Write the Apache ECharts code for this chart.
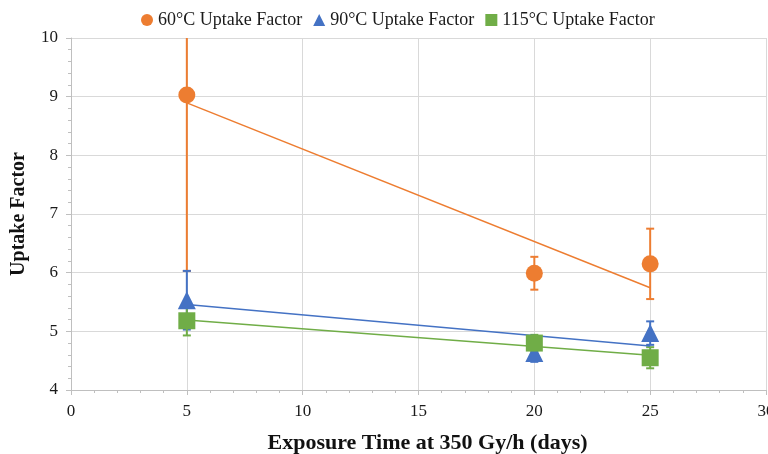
<!DOCTYPE html>
<html>
<head>
	<meta charset="utf-8"/>
	<title>Uptake Factor</title>
</head>
<body style="margin: 0; background: #fff;">

	<div id="chart" style="width: 768px; height: 454px;"></div>

	<script src="https://cdn.jsdelivr.net/npm/echarts@6/dist/echarts.min.js"></script>
	<script>

		// exposure days
		var days = [5, 20, 25];

		// uptake factor for each temperature, with error (+/-)
		var names = ['60°C Uptake Factor', '90°C Uptake Factor', '115°C Uptake Factor'];
		var val60 = [9.03, 5.99, 6.15];
		var err60 = [3.0, 0.28, 0.6];
		var val90 = [5.53, 4.63, 4.97];
		var err90 = [0.5, 0.15, 0.2];
		var val115 = [5.18, 4.80, 4.55];
		var err115 = [0.25, 0.14, 0.18];

		var colors = ['#ED7D31', '#4472C4', '#70AD47'];
		var symbols = ['circle', 'triangle', 'rect'];
		var font = '"Liberation Serif", "Times New Roman", serif';

		var yMin = 4, yMax = 10;

		// linear trendline (least squares) over the data points
		function trend (xs, ys) {
			var n = xs.length, mx = 0, my = 0;
			for (var i = 0; i < n; i++) { mx += xs[i]; my += ys[i]; }
			mx /= n; my /= n;
			var sxy = 0, sxx = 0;
			for (var i = 0; i < n; i++) {
				sxy += (xs[i] - mx) * (ys[i] - my);
				sxx += (xs[i] - mx) * (xs[i] - mx);
			}
			var b = sxy / sxx, a = my - b * mx;
			var x0 = xs[0], x1 = xs[n - 1];
			return [[x0, a + b * x0], [x1, a + b * x1]];
		}

		function errorData (vals, errs) {
			var out = [];
			for (var i = 0; i < days.length; i++) {
				out.push([days[i], vals[i] - errs[i], vals[i] + errs[i]]);
			}
			return out;
		}

		function pairs (vals) {
			var out = [];
			for (var i = 0; i < days.length; i++) out.push([days[i], vals[i]]);
			return out;
		}

		function renderError (color) {
			return function (params, api) {
				var x = api.value(0);
				var lo = Math.max(api.value(1), yMin);
				var hi = Math.min(api.value(2), yMax);
				var pLo = api.coord([x, lo]);
				var pHi = api.coord([x, hi]);
				var cap = 4;
				var style = { stroke: color, lineWidth: 2 };
				var children = [
					{ type: 'line', shape: { x1: pLo[0], y1: pLo[1], x2: pHi[0], y2: pHi[1] }, style: style }
				];
				if (api.value(1) >= yMin) {
					children.push({ type: 'line', shape: { x1: pLo[0] - cap, y1: pLo[1], x2: pLo[0] + cap, y2: pLo[1] }, style: style });
				}
				if (api.value(2) <= yMax) {
					children.push({ type: 'line', shape: { x1: pHi[0] - cap, y1: pHi[1], x2: pHi[0] + cap, y2: pHi[1] }, style: style });
				}
				return { type: 'group', children: children };
			};
		}

		var vals = [val60, val90, val115];
		var errs = [err60, err90, err115];
		var series = [];

		for (var k = 0; k < 3; k++) {
			series.push({
				type: 'custom',
				name: names[k] + ' err',
				renderItem: renderError(colors[k]),
				data: errorData(vals[k], errs[k]),
				z: 2
			});
			series.push({
				type: 'line',
				name: names[k] + ' trend',
				data: trend(days, vals[k]),
				symbol: 'none',
				lineStyle: { color: colors[k], width: 1.5 },
				silent: true,
				z: 3
			});
			series.push({
				type: 'scatter',
				name: names[k],
				data: pairs(vals[k]),
				symbol: symbols[k],
				symbolSize: symbols[k] === 'triangle' ? 18 : 17,
				itemStyle: { color: colors[k], opacity: 1 },
				z: 4
			});
		}

		var myChart = echarts.init(document.getElementById('chart'));

		var option = {
			animation: false,
			color: colors,
			legend: {
				data: [
					{ name: names[0], icon: 'circle' },
					{ name: names[1], icon: 'triangle' },
					{ name: names[2], icon: 'rect' }
				],
				top: 6,
				left: 136,
				itemWidth: 12,
				itemHeight: 12,
				itemGap: 11,
				textStyle: { fontFamily: font, fontSize: 18, color: '#1a1a1a' }
			},
			grid: {
				left: 71,
				right: 2,
				top: 38,
				bottom: 64,
				outerBoundsMode: 'none',
				containLabel: false
			},
			xAxis: {
				type: 'value',
				min: 0,
				max: 30,
				interval: 5,
				name: 'Exposure Time at 350 Gy/h (days)',
				nameLocation: 'middle',
				nameGap: 42,
				nameTextStyle: { fontFamily: font, fontSize: 22, fontWeight: 'bold', color: '#111', padding: [0, 0, 0, 18] },
				axisLine: { show: true, lineStyle: { color: '#bfbfbf' } },
				axisTick: { show: true, length: 5, lineStyle: { color: '#bfbfbf' } },
				minorTick: { show: true, splitNumber: 5, length: 3, lineStyle: { color: '#bfbfbf' } },
				axisLabel: { fontFamily: font, fontSize: 17, color: '#1a1a1a', margin: 13 },
				splitLine: { show: true, lineStyle: { color: '#d9d9d9' } }
			},
			yAxis: {
				type: 'value',
				min: 4,
				max: 10,
				interval: 1,
				name: 'Uptake Factor',
				nameLocation: 'middle',
				nameGap: 42,
				nameTextStyle: { fontFamily: font, fontSize: 20, fontWeight: 'bold', color: '#111' },
				axisLine: { show: true, lineStyle: { color: '#bfbfbf' } },
				axisTick: { show: true, length: 5, lineStyle: { color: '#bfbfbf' } },
				minorTick: { show: true, splitNumber: 5, length: 3, lineStyle: { color: '#bfbfbf' } },
				axisLabel: { fontFamily: font, fontSize: 17, color: '#1a1a1a', margin: 13 },
				splitLine: { show: true, lineStyle: { color: '#d9d9d9' } }
			},
			series: series
		};

		myChart.setOption(option);

	</script>
</body>
</html>
